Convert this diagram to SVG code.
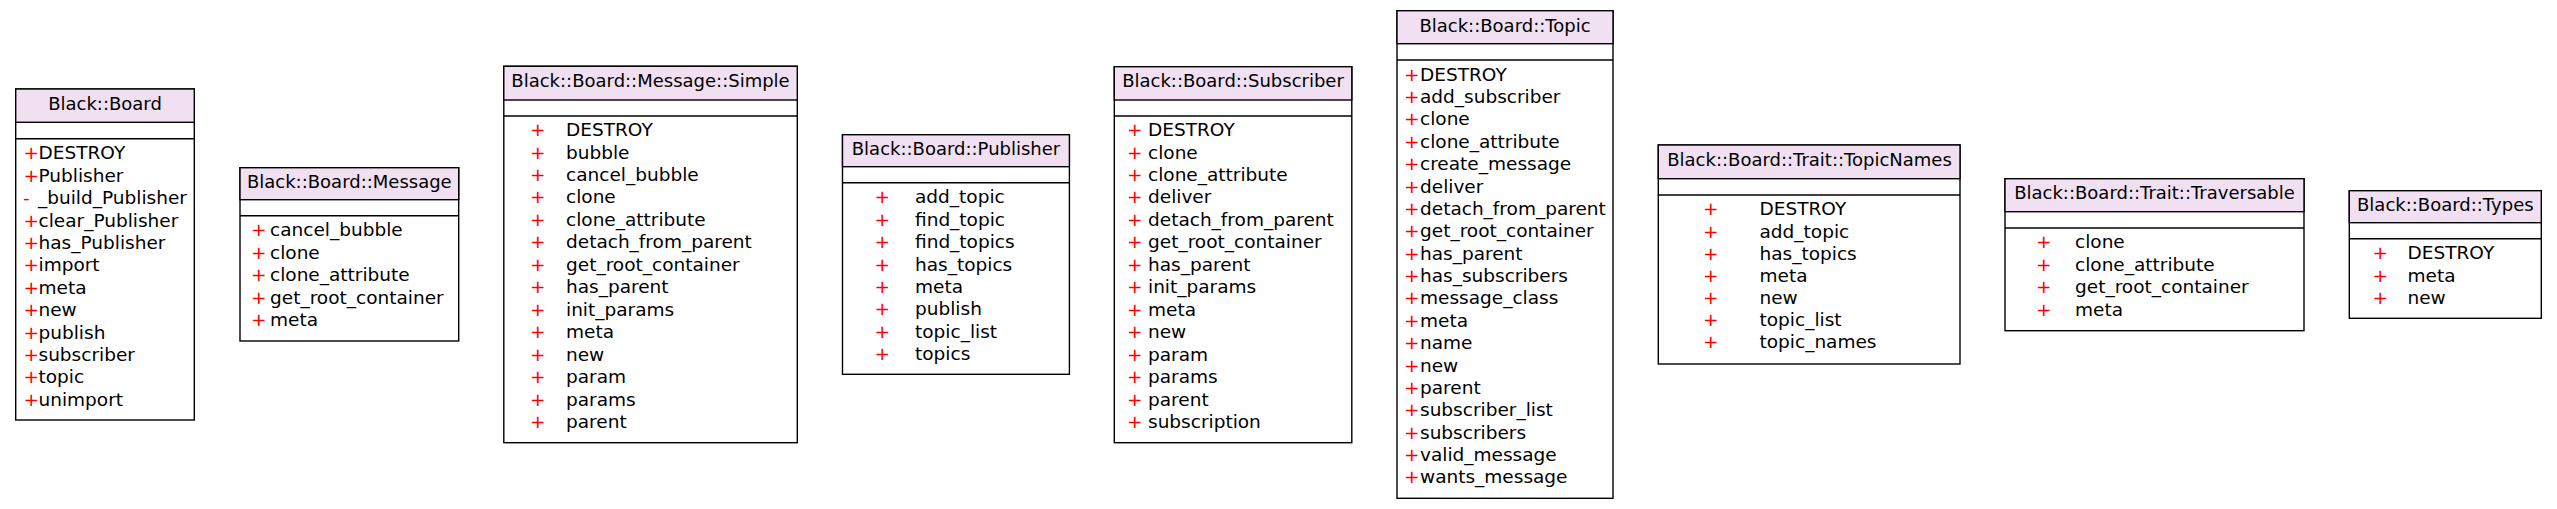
<svg xmlns="http://www.w3.org/2000/svg" width="2557" height="509" viewBox="0 0 2557 509">
<style>
.bg{fill:#ffffff}
.box{fill:#ffffff;stroke:#000000;stroke-width:1.4}
.hdr{fill:#f0e0f2;stroke:#000000;stroke-width:1.4}
.sep{stroke:#000000;stroke-width:1.4}
.t{font-family:"DejaVu Sans","Liberation Sans",sans-serif;font-size:18px;fill:#000000;text-anchor:middle}
.m{font-family:"DejaVu Sans","Liberation Sans",sans-serif;font-size:18.5px;fill:#000000}
.v{font-family:"DejaVu Sans","Liberation Sans",sans-serif;font-size:18.5px;fill:#ff0000}
</style>
<rect class="bg" x="0" y="0" width="2557" height="509"/>
<g id="connectors"></g>
<g id="Black_Board">
<rect class="box" x="15.7" y="89" width="178.6" height="331"/>
<rect class="hdr" x="15.7" y="89" width="178.6" height="33.3"/>
<line class="sep" x1="15.7" y1="138.7" x2="194.3" y2="138.7"/>
<text class="t" x="105" y="110">Black::Board</text>
<text class="v" x="23.5" y="159.3">+</text><text class="m" x="38.5" y="159.3">DESTROY</text>
<text class="v" x="23.5" y="181.7">+</text><text class="m" x="38.5" y="181.7">Publisher</text>
<text class="v" x="23" y="204.1">-</text><text class="m" x="38" y="204.1">_build_Publisher</text>
<text class="v" x="23.5" y="226.5">+</text><text class="m" x="38.5" y="226.5">clear_Publisher</text>
<text class="v" x="23.5" y="248.9">+</text><text class="m" x="38.5" y="248.9">has_Publisher</text>
<text class="v" x="23.5" y="271.3">+</text><text class="m" x="38.5" y="271.3">import</text>
<text class="v" x="23.5" y="293.7">+</text><text class="m" x="38.5" y="293.7">meta</text>
<text class="v" x="23.5" y="316.1">+</text><text class="m" x="38.5" y="316.1">new</text>
<text class="v" x="23.5" y="338.5">+</text><text class="m" x="38.5" y="338.5">publish</text>
<text class="v" x="23.5" y="360.9">+</text><text class="m" x="38.5" y="360.9">subscriber</text>
<text class="v" x="23.5" y="383.3">+</text><text class="m" x="38.5" y="383.3">topic</text>
<text class="v" x="23.5" y="405.7">+</text><text class="m" x="38.5" y="405.7">unimport</text>
</g>
<g id="Black_Board_Message">
<rect class="box" x="240" y="167.7" width="218.7" height="173.3"/>
<rect class="hdr" x="240" y="167.7" width="218.7" height="32"/>
<line class="sep" x1="240" y1="215.7" x2="458.7" y2="215.7"/>
<text class="t" x="349.3" y="188.3">Black::Board::Message</text>
<text class="v" x="251" y="236">+</text><text class="m" x="270" y="236">cancel_bubble</text>
<text class="v" x="251" y="258.5">+</text><text class="m" x="270" y="258.5">clone</text>
<text class="v" x="251" y="281">+</text><text class="m" x="270" y="281">clone_attribute</text>
<text class="v" x="251" y="303.5">+</text><text class="m" x="270" y="303.5">get_root_container</text>
<text class="v" x="251" y="326">+</text><text class="m" x="270" y="326">meta</text>
</g>
<g id="Black_Board_Message_Simple">
<rect class="box" x="503.8" y="66.3" width="293.5" height="376.4"/>
<rect class="hdr" x="503.8" y="66.3" width="293.5" height="33.7"/>
<line class="sep" x1="503.8" y1="116" x2="797.3" y2="116"/>
<text class="t" x="650.5" y="86.7">Black::Board::Message::Simple</text>
<text class="v" x="530" y="136">+</text><text class="m" x="566" y="136">DESTROY</text>
<text class="v" x="530" y="158.5">+</text><text class="m" x="566" y="158.5">bubble</text>
<text class="v" x="530" y="181">+</text><text class="m" x="566" y="181">cancel_bubble</text>
<text class="v" x="530" y="203.4">+</text><text class="m" x="566" y="203.4">clone</text>
<text class="v" x="530" y="225.9">+</text><text class="m" x="566" y="225.9">clone_attribute</text>
<text class="v" x="530" y="248.4">+</text><text class="m" x="566" y="248.4">detach_from_parent</text>
<text class="v" x="530" y="270.9">+</text><text class="m" x="566" y="270.9">get_root_container</text>
<text class="v" x="530" y="293.4">+</text><text class="m" x="566" y="293.4">has_parent</text>
<text class="v" x="530" y="315.8">+</text><text class="m" x="566" y="315.8">init_params</text>
<text class="v" x="530" y="338.3">+</text><text class="m" x="566" y="338.3">meta</text>
<text class="v" x="530" y="360.8">+</text><text class="m" x="566" y="360.8">new</text>
<text class="v" x="530" y="383.3">+</text><text class="m" x="566" y="383.3">param</text>
<text class="v" x="530" y="405.8">+</text><text class="m" x="566" y="405.8">params</text>
<text class="v" x="530" y="428.3">+</text><text class="m" x="566" y="428.3">parent</text>
</g>
<g id="Black_Board_Publisher">
<rect class="box" x="842.5" y="134.7" width="226.9" height="239.6"/>
<rect class="hdr" x="842.5" y="134.7" width="226.9" height="32"/>
<line class="sep" x1="842.5" y1="182.7" x2="1069.4" y2="182.7"/>
<text class="t" x="956" y="155">Black::Board::Publisher</text>
<text class="v" x="874.5" y="203.3">+</text><text class="m" x="915" y="203.3">add_topic</text>
<text class="v" x="874.5" y="225.7">+</text><text class="m" x="915" y="225.7">find_topic</text>
<text class="v" x="874.5" y="248.1">+</text><text class="m" x="915" y="248.1">find_topics</text>
<text class="v" x="874.5" y="270.5">+</text><text class="m" x="915" y="270.5">has_topics</text>
<text class="v" x="874.5" y="292.9">+</text><text class="m" x="915" y="292.9">meta</text>
<text class="v" x="874.5" y="315.3">+</text><text class="m" x="915" y="315.3">publish</text>
<text class="v" x="874.5" y="337.7">+</text><text class="m" x="915" y="337.7">topic_list</text>
<text class="v" x="874.5" y="360.1">+</text><text class="m" x="915" y="360.1">topics</text>
</g>
<g id="Black_Board_Subscriber">
<rect class="box" x="1114.3" y="66.7" width="237.5" height="376"/>
<rect class="hdr" x="1114.3" y="66.7" width="237.5" height="33.3"/>
<line class="sep" x1="1114.3" y1="116" x2="1351.8" y2="116"/>
<text class="t" x="1233" y="86.7">Black::Board::Subscriber</text>
<text class="v" x="1127" y="136">+</text><text class="m" x="1148" y="136">DESTROY</text>
<text class="v" x="1127" y="158.5">+</text><text class="m" x="1148" y="158.5">clone</text>
<text class="v" x="1127" y="181">+</text><text class="m" x="1148" y="181">clone_attribute</text>
<text class="v" x="1127" y="203.4">+</text><text class="m" x="1148" y="203.4">deliver</text>
<text class="v" x="1127" y="225.9">+</text><text class="m" x="1148" y="225.9">detach_from_parent</text>
<text class="v" x="1127" y="248.4">+</text><text class="m" x="1148" y="248.4">get_root_container</text>
<text class="v" x="1127" y="270.9">+</text><text class="m" x="1148" y="270.9">has_parent</text>
<text class="v" x="1127" y="293.4">+</text><text class="m" x="1148" y="293.4">init_params</text>
<text class="v" x="1127" y="315.8">+</text><text class="m" x="1148" y="315.8">meta</text>
<text class="v" x="1127" y="338.3">+</text><text class="m" x="1148" y="338.3">new</text>
<text class="v" x="1127" y="360.8">+</text><text class="m" x="1148" y="360.8">param</text>
<text class="v" x="1127" y="383.3">+</text><text class="m" x="1148" y="383.3">params</text>
<text class="v" x="1127" y="405.8">+</text><text class="m" x="1148" y="405.8">parent</text>
<text class="v" x="1127" y="428.3">+</text><text class="m" x="1148" y="428.3">subscription</text>
</g>
<g id="Black_Board_Topic">
<rect class="box" x="1397" y="10.7" width="216" height="487.6"/>
<rect class="hdr" x="1397" y="10.7" width="216" height="33"/>
<line class="sep" x1="1397" y1="60" x2="1613" y2="60"/>
<text class="t" x="1505" y="31.7">Black::Board::Topic</text>
<text class="v" x="1404" y="80.7">+</text><text class="m" x="1420" y="80.7">DESTROY</text>
<text class="v" x="1404" y="103.1">+</text><text class="m" x="1420" y="103.1">add_subscriber</text>
<text class="v" x="1404" y="125.4">+</text><text class="m" x="1420" y="125.4">clone</text>
<text class="v" x="1404" y="147.8">+</text><text class="m" x="1420" y="147.8">clone_attribute</text>
<text class="v" x="1404" y="170.2">+</text><text class="m" x="1420" y="170.2">create_message</text>
<text class="v" x="1404" y="192.6">+</text><text class="m" x="1420" y="192.6">deliver</text>
<text class="v" x="1404" y="214.9">+</text><text class="m" x="1420" y="214.9">detach_from_parent</text>
<text class="v" x="1404" y="237.3">+</text><text class="m" x="1420" y="237.3">get_root_container</text>
<text class="v" x="1404" y="259.7">+</text><text class="m" x="1420" y="259.7">has_parent</text>
<text class="v" x="1404" y="282">+</text><text class="m" x="1420" y="282">has_subscribers</text>
<text class="v" x="1404" y="304.4">+</text><text class="m" x="1420" y="304.4">message_class</text>
<text class="v" x="1404" y="326.8">+</text><text class="m" x="1420" y="326.8">meta</text>
<text class="v" x="1404" y="349.1">+</text><text class="m" x="1420" y="349.1">name</text>
<text class="v" x="1404" y="371.5">+</text><text class="m" x="1420" y="371.5">new</text>
<text class="v" x="1404" y="393.9">+</text><text class="m" x="1420" y="393.9">parent</text>
<text class="v" x="1404" y="416.3">+</text><text class="m" x="1420" y="416.3">subscriber_list</text>
<text class="v" x="1404" y="438.6">+</text><text class="m" x="1420" y="438.6">subscribers</text>
<text class="v" x="1404" y="461">+</text><text class="m" x="1420" y="461">valid_message</text>
<text class="v" x="1404" y="483.3">+</text><text class="m" x="1420" y="483.3">wants_message</text>
</g>
<g id="Black_Board_Trait_TopicNames">
<rect class="box" x="1658.3" y="145" width="301.7" height="219"/>
<rect class="hdr" x="1658.3" y="145" width="301.7" height="33.7"/>
<line class="sep" x1="1658.3" y1="195" x2="1960" y2="195"/>
<text class="t" x="1809.5" y="166">Black::Board::Trait::TopicNames</text>
<text class="v" x="1703" y="215.3">+</text><text class="m" x="1759.5" y="215.3">DESTROY</text>
<text class="v" x="1703" y="237.5">+</text><text class="m" x="1759.5" y="237.5">add_topic</text>
<text class="v" x="1703" y="259.6">+</text><text class="m" x="1759.5" y="259.6">has_topics</text>
<text class="v" x="1703" y="281.8">+</text><text class="m" x="1759.5" y="281.8">meta</text>
<text class="v" x="1703" y="304">+</text><text class="m" x="1759.5" y="304">new</text>
<text class="v" x="1703" y="326.2">+</text><text class="m" x="1759.5" y="326.2">topic_list</text>
<text class="v" x="1703" y="348.3">+</text><text class="m" x="1759.5" y="348.3">topic_names</text>
</g>
<g id="Black_Board_Trait_Traversable">
<rect class="box" x="2005" y="178.7" width="299" height="152"/>
<rect class="hdr" x="2005" y="178.7" width="299" height="33"/>
<line class="sep" x1="2005" y1="228" x2="2304" y2="228"/>
<text class="t" x="2154.5" y="199.3">Black::Board::Trait::Traversable</text>
<text class="v" x="2036" y="248">+</text><text class="m" x="2075" y="248">clone</text>
<text class="v" x="2036" y="270.6">+</text><text class="m" x="2075" y="270.6">clone_attribute</text>
<text class="v" x="2036" y="293.1">+</text><text class="m" x="2075" y="293.1">get_root_container</text>
<text class="v" x="2036" y="315.7">+</text><text class="m" x="2075" y="315.7">meta</text>
</g>
<g id="Black_Board_Types">
<rect class="box" x="2349.3" y="190.7" width="192" height="127.6"/>
<rect class="hdr" x="2349.3" y="190.7" width="192" height="32"/>
<line class="sep" x1="2349.3" y1="238.7" x2="2541.3" y2="238.7"/>
<text class="t" x="2445.3" y="211">Black::Board::Types</text>
<text class="v" x="2372.5" y="259">+</text><text class="m" x="2407.5" y="259">DESTROY</text>
<text class="v" x="2372.5" y="281.5">+</text><text class="m" x="2407.5" y="281.5">meta</text>
<text class="v" x="2372.5" y="304">+</text><text class="m" x="2407.5" y="304">new</text>
</g>
</svg>
